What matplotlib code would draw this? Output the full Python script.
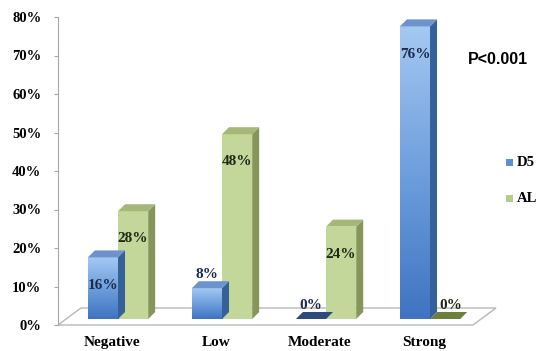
import numpy as np
import matplotlib
matplotlib.use('Agg')
import matplotlib.pyplot as plt
import matplotlib.transforms as mtransforms
from matplotlib.patches import Polygon, Rectangle
from matplotlib.colors import LinearSegmentedColormap

categories = ['Negative', 'Low', 'Moderate', 'Strong']
d5 = [0.16, 0.08, 0.00, 0.76]
al = [0.28, 0.48, 0.24, 0.00]
series_names = ['D5', 'AL']
yticks = [0, 0.1, 0.2, 0.3, 0.4, 0.5, 0.6, 0.7, 0.8]
ytick_labels = ['0%', '10%', '20%', '30%', '40%', '50%', '60%', '70%', '80%']
p_text = 'P<0.001'

serif = 'Liberation Serif'
blue_grad = LinearSegmentedColormap.from_list('b', ['#3F74C2', '#6E9EDC', '#A4C8F2'])
blue_side = '#35609A'
blue_top = '#6C93CC'
blue_flat = '#2C4A7C'
green_front = '#C4D79B'
green_side = '#86965A'
green_top = '#A6B878'
green_flat = '#6E7E3C'

fig = plt.figure(figsize=(5.39, 3.51), dpi=100)
ax = fig.add_axes([58 / 539, 26 / 351, 415 / 539, 308 / 351])
xl = (-0.577, 3.413)
yl = (0, 0.8)

# pseudo 3d offsets
dx, dy = 7 / 104, 7 / 385
base = 6 / 385
w = 0.29


def draw_bar(x0, v, front, side, top, flat, grad=None):
    x1 = x0 + w
    t = base + v
    if v <= 0:
        ax.add_patch(Polygon([(x0, t), (x1, t), (x1 + dx, t + dy), (x0 + dx, t + dy)],
                             closed=True, facecolor=flat, edgecolor='none', zorder=4))
        return
    rect = Rectangle((x0, base), w, v, facecolor=front, edgecolor='none', zorder=3)
    ax.add_patch(rect)
    if grad is not None:
        img = ax.imshow(np.linspace(0, 1, 100).reshape(-1, 1), cmap=grad, origin='lower',
                        extent=[x0, x1, base, t], aspect='auto', zorder=3.5)
        img.set_clip_path(rect)
    ax.add_patch(Polygon([(x1, base), (x1 + dx, base + dy), (x1 + dx, t + dy), (x1, t)],
                         closed=True, facecolor=side, edgecolor='none', zorder=4))
    ax.add_patch(Polygon([(x0, t), (x1, t), (x1 + dx, t + dy), (x0 + dx, t + dy)],
                         closed=True, facecolor=top, edgecolor='none', zorder=4))


def value_label(xc, v, color):
    if v < 0.1:
        y = base + v + 0.035
    else:
        y = base + v - 0.072
    ax.text(xc, y, f'{v * 100:.0f}%', ha='center', va='center', fontsize=11,
            fontweight='bold', family=serif, color=color, zorder=6)


# floor
fdx, fdy = 23 / 104, 17 / 385
floor = Polygon([(xl[0], 0), (xl[1], 0), (xl[1] + fdx, fdy), (xl[0] + fdx, fdy)],
                closed=True, facecolor='white', edgecolor='#B8B8B8', lw=1, zorder=1, clip_on=False)
ax.add_patch(floor)

for i in range(len(categories)):
    draw_bar(i - w, d5[i], '#6E9EDC', blue_side, blue_top, blue_flat, blue_grad)
    draw_bar(i, al[i], green_front, green_side, green_top, green_flat)
    value_label(i - w / 2, d5[i], '#1B2B4A')
    value_label(i + w / 2 + (0.05 if al[i] == 0 else 0), al[i], '#1E2814')

ax.set_xlim(*xl)
ax.set_ylim(*yl)
ax.set_yticks(yticks)
ax.set_yticklabels(ytick_labels, fontsize=10.5, fontweight='bold', family=serif)
ax.set_xticks(range(len(categories)))
ax.set_xticklabels(categories, fontsize=11, fontweight='bold', family=serif)
ax.tick_params(axis='x', length=0, pad=8)
ax.tick_params(axis='y', length=3, color='#A6A6A6', pad=9)
for s in ['top', 'right', 'bottom']:
    ax.spines[s].set_visible(False)
ax.spines['left'].set_color('#A6A6A6')
shift = mtransforms.ScaledTranslation(-6 / 100, 0, fig.dpi_scale_trans)
for lab in ax.get_xticklabels():
    lab.set_transform(lab.get_transform() + shift)

fig.text(468 / 539, 1 - 60 / 351, p_text, fontsize=11.5, fontweight='bold',
         family='Liberation Sans', va='center', ha='left')

# legend squeezed against the right edge
for k, (name, col) in enumerate(zip(series_names, ['#5B8FD6', '#B5CC88'])):
    yy = 1 - (162 + 36 * k) / 351
    fig.patches.append(Rectangle((506 / 539, yy - 3.5 / 351), 7 / 539, 7 / 351,
                                 transform=fig.transFigure, facecolor=col, edgecolor='none'))
    fig.text(517 / 539, yy, name, fontsize=10.5, fontweight='bold', family=serif,
             va='center', ha='left')

fig.savefig('out.png', dpi=100)
